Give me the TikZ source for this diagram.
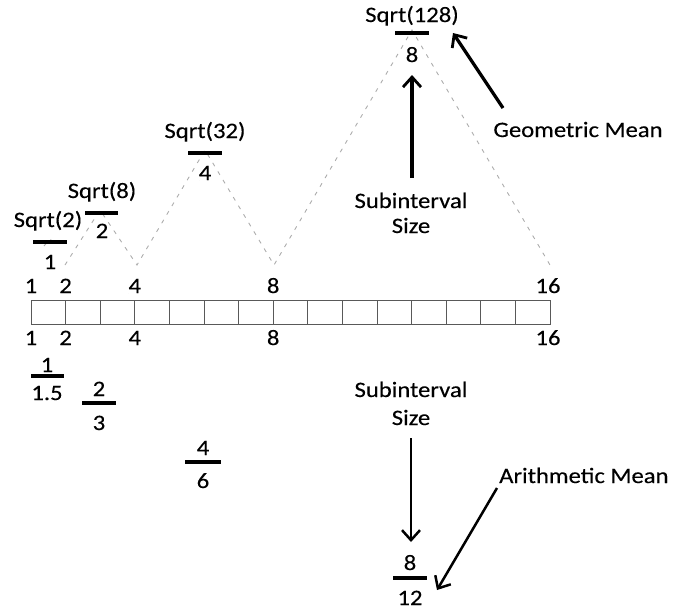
\documentclass[tikz,border=0pt]{standalone}
\usepackage{fontspec}
\setmainfont{Carlito}[FakeStretch=1.12,FakeBold=0.3]
\usetikzlibrary{arrows.meta}
\begin{document}
\begin{tikzpicture}[x=1pt,y=-1pt,
  lbl/.style={inner sep=0pt,anchor=base,font=\fontsize{22}{26}\selectfont},
  fbar/.style={line width=3.4pt},
  zig/.style={gray!65,line width=0.9pt,dash pattern=on 4pt off 6pt},
  cell/.style={draw=black!65,line width=1pt},
  bigarrow/.style={line width=3.2pt,-{Straight Barb[length=10pt,width=18pt,line width=2.8pt]}},
  midarrow/.style={line width=2.5pt,-{Straight Barb[length=10pt,width=18pt,line width=2.5pt]}}]
\useasboundingbox (0,0) rectangle (679,611);

% dashed zigzag
\coordinate (b2) at (65,265);
\coordinate (b4) at (137,265);
\coordinate (b8) at (274,265);
\coordinate (b16) at (550,265);
\coordinate (a8) at (100,210);
\coordinate (a32) at (205,150);
\coordinate (a128) at (412,30);
\draw[zig] (b2) -- (a8) -- (b4) -- (a32) -- (b8) -- (a128) -- (b16);
\draw[zig] (44,246) -- (50,239) -- (57,246);

% geometric fractions
\node[lbl] (sq2) at (48,227) {Sqrt(2)};
\draw[fbar] (33,242) -- (67,242);
\node[lbl] (g1) at (50,269) {1};
\node[lbl] (sq8) at (102,198) {Sqrt(8)};
\draw[fbar] (85,213) -- (118,213);
\node[lbl] (g2) at (102,238) {2};
\node[lbl] (sq32) at (205,138) {Sqrt(32)};
\draw[fbar] (188,153) -- (222,153);
\node[lbl] (g4) at (205,180) {4};
\node[lbl] (sq128) at (412,22) {Sqrt(128)};
\draw[fbar] (395,33) -- (429,33);
\node[lbl] (g8) at (412,62) {8};

% interval row
\foreach \i in {0,...,14}{
  \draw[cell] ({31+\i*34.6},300) rectangle ({31+(\i+1)*34.6},324);
}
\node[lbl] (t1) at (31,293) {1};
\node[lbl] (t2) at (65.6,293) {2};
\node[lbl] (t4) at (134.8,293) {4};
\node[lbl] (t8) at (273.2,293) {8};
\node[lbl] (t16) at (548,293) {16};
\node[lbl] (u1) at (31,345) {1};
\node[lbl] (u2) at (65.6,345) {2};
\node[lbl] (u4) at (134.8,345) {4};
\node[lbl] (u8) at (273.2,345) {8};
\node[lbl] (u16) at (548,345) {16};

% arithmetic fractions
\node[lbl] (m1) at (47,372) {1};
\draw[fbar] (31,376) -- (64,376);
\node[lbl] (m15) at (47,400) {1.5};
\node[lbl] (m2) at (99,396) {2};
\draw[fbar] (82,403) -- (116,403);
\node[lbl] (m3) at (99,430) {3};
\node[lbl] (m4) at (203,455) {4};
\draw[fbar] (185,462) -- (221,462);
\node[lbl] (m6) at (203,488) {6};
\node[lbl] (m8) at (410,570) {8};
\draw[fbar] (393,578) -- (427,578);
\node[lbl] (m12) at (410,605) {12};

% labels
\node[lbl] (subA) at (411,208) {Subinterval};
\node[lbl] (sizeA) at (411,233) {Size};
\node[lbl] (geo) at (578,137) {Geometric Mean};
\node[lbl] (subB) at (411,397) {Subinterval};
\node[lbl] (sizeB) at (411,425) {Size};
\node[lbl,anchor=base west] (ari) at (499,483) {Arithmetic Mean};

% arrows
\coordinate (upS) at (412,178);
\coordinate (upT) at (412,75);
\draw[bigarrow] (upS) -- (upT);
\coordinate (geS) at (503,108);
\coordinate (geT) at (453,33);
\draw[bigarrow] (geS) -- (geT);
\coordinate (dnS) at (411,438);
\coordinate (dnT) at (411,542);
\draw[midarrow] (dnS) -- (dnT);
\coordinate (arS) at (497,488);
\coordinate (arT) at (437,590);
\draw[midarrow] (arS) -- (arT);
\end{tikzpicture}
\end{document}
